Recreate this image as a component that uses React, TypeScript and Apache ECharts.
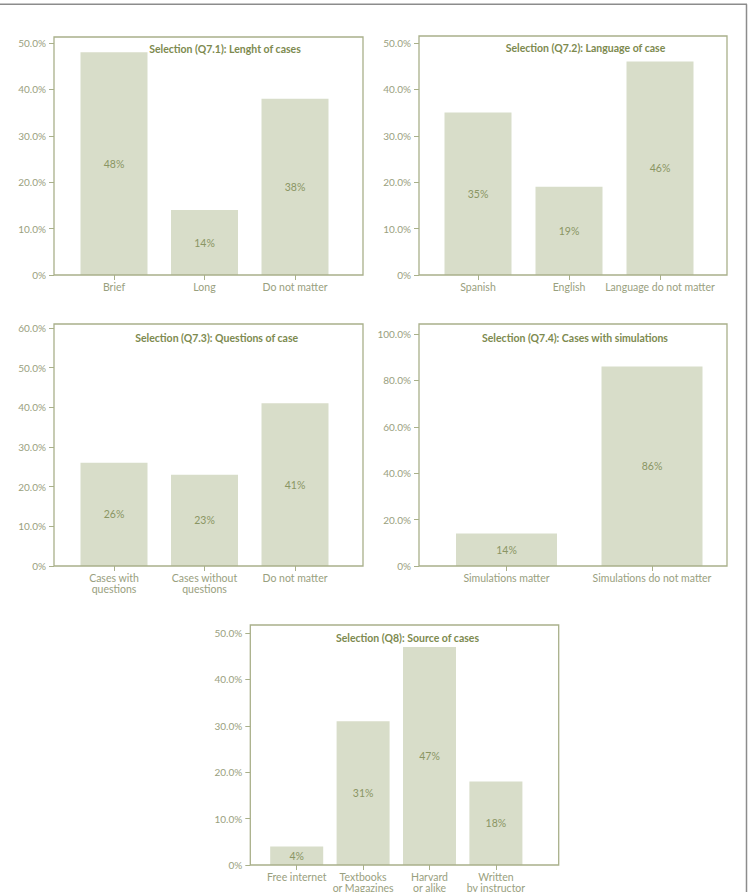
import React, { useEffect, useRef } from "react";
import * as echarts from "echarts";

// Survey answers (percent of respondents) for each selection question
const lengthCategories = ["Brief", "Long", "Do not matter"];
const lengthValues = [48, 14, 38];

const languageCategories = ["Spanish", "English", "Language do not matter"];
const languageValues = [35, 19, 46];

const questionCategories = ["Cases with\nquestions", "Cases without\nquestions", "Do not matter"];
const questionValues = [26, 23, 41];

const simulationCategories = ["Simulations matter", "Simulations do not matter"];
const simulationValues = [14, 86];

const sourceCategories = ["Free internet", "Textbooks\nor Magazines", "Harvard\nor alike", "Written\nby instructor"];
const sourceValues = [4, 31, 47, 18];

const panelTitles = [
  "Selection (Q7.1): Lenght of cases",
  "Selection (Q7.2): Language of case",
  "Selection (Q7.3): Questions of case",
  "Selection (Q7.4): Cases with simulations",
  "Selection (Q8): Source of cases",
];
const axisMax = [50, 50, 60, 100, 50];
const axisStep = [10, 10, 10, 20, 10];

const BAR = "#d8ddc9";
const FRAME = "#a9b08a";
const TICK_TEXT = "#99a07e";
const TITLE = "#7d8a4f";
const VALUE_TEXT = "#8a9563";
const FONT = "Lato";

type Layout = {
  box: [number, number, number, number];
  grid: { left: number; top: number; width: number; height: number };
  yOffset: number;
  barWidth: number;
  titleX: number;
  titleY: number;
};

const layouts: Layout[] = [
  { box: [54, 37, 309, 238], grid: { left: 68.75, top: 43, width: 271.5, height: 232 }, yOffset: 14.75, barWidth: 67, titleX: 225, titleY: 49 },
  { box: [419, 36, 308, 239], grid: { left: 432.5, top: 43, width: 273, height: 232 }, yOffset: 13.5, barWidth: 67, titleX: 585.5, titleY: 48 },
  { box: [54, 324, 309, 242], grid: { left: 68.75, top: 328, width: 271.5, height: 238 }, yOffset: 14.75, barWidth: 67, titleX: 216.7, titleY: 337.7 },
  { box: [419, 324, 308, 242], grid: { left: 433.75, top: 334, width: 291, height: 232 }, yOffset: 14.75, barWidth: 101, titleX: 575, titleY: 337.7 },
  { box: [250.3, 625, 308.4, 240], grid: { left: 263.5, top: 633, width: 265.6, height: 232 }, yOffset: 13.2, barWidth: 53, titleX: 407.5, titleY: 637.7 },
];

const panels = [
  { categories: lengthCategories, values: lengthValues },
  { categories: languageCategories, values: languageValues },
  { categories: questionCategories, values: questionValues },
  { categories: simulationCategories, values: simulationValues },
  { categories: sourceCategories, values: sourceValues },
];

function buildOption() {
  const grid: any[] = [];
  const xAxis: any[] = [];
  const yAxis: any[] = [];
  const series: any[] = [];
  const graphic: any[] = [];

  panels.forEach((p, i) => {
    const L = layouts[i];
    grid.push({ ...L.grid, containLabel: false, outerBoundsMode: "none" });
    xAxis.push({
      type: "category",
      gridIndex: i,
      data: p.categories,
      axisLine: { show: false },
      axisTick: { show: true, alignWithLabel: true, length: 5, lineStyle: { color: FRAME, width: 1 } },
      axisLabel: {
        color: TICK_TEXT,
        fontFamily: FONT,
        fontSize: 10.5,
        margin: 6,
        lineHeight: 11,
        interval: 0,
      },
    });
    yAxis.push({
      type: "value",
      gridIndex: i,
      min: 0,
      max: axisMax[i],
      interval: axisStep[i],
      offset: L.yOffset,
      splitLine: { show: false },
      axisLine: { show: false },
      axisTick: { show: true, length: 5, lineStyle: { color: FRAME, width: 1 } },
      axisLabel: {
        color: TICK_TEXT,
        fontFamily: FONT,
        fontSize: 10,
        margin: 8,
        formatter: (v: number) => (v === 0 ? "0%" : v.toFixed(1) + "%"),
      },
    });
    series.push({
      type: "bar",
      xAxisIndex: i,
      yAxisIndex: i,
      data: p.values,
      barWidth: L.barWidth,
      itemStyle: { color: BAR },
      label: {
        show: true,
        position: "inside",
        formatter: "{c}%",
        color: VALUE_TEXT,
        fontFamily: FONT,
        fontSize: 10.5,
      },
    });
    const [bx, by, bw, bh] = L.box;
    graphic.push({
      type: "rect",
      shape: { x: bx, y: by, width: bw, height: bh },
      style: { fill: "none", stroke: FRAME, lineWidth: 1.3 },
      silent: true,
      z: 10,
    });
    graphic.push({
      type: "text",
      x: L.titleX,
      y: L.titleY,
      style: {
        text: panelTitles[i],
        align: "center",
        verticalAlign: "middle",
        fill: TITLE,
        font: `bold 10.5px ${FONT}`,
      },
      silent: true,
      z: 10,
    });
  });

  // page rules along the top and right edge
  graphic.push({
    type: "line",
    shape: { x1: 0, y1: 4.3, x2: 747, y2: 4.3 },
    style: { stroke: "#8c8c8c", lineWidth: 1.5 },
    silent: true,
  });
  graphic.push({
    type: "line",
    shape: { x1: 746.5, y1: 4.3, x2: 746.5, y2: 892 },
    style: { stroke: "#8c8c8c", lineWidth: 1.5 },
    silent: true,
  });

  return {
    animation: false,
    backgroundColor: "#ffffff",
    grid,
    xAxis,
    yAxis,
    series,
    graphic,
  };
}

export default function App() {
  const ref = useRef<HTMLDivElement>(null);
  useEffect(() => {
    if (!ref.current) return;
    const chart = echarts.init(ref.current, null, { renderer: "svg" });
    chart.setOption(buildOption());
    return () => chart.dispose();
  }, []);
  return (
    <div
      ref={ref}
      style={{ position: "absolute", left: 0, top: 0, width: 749, height: 892 }}
    />
  );
}
